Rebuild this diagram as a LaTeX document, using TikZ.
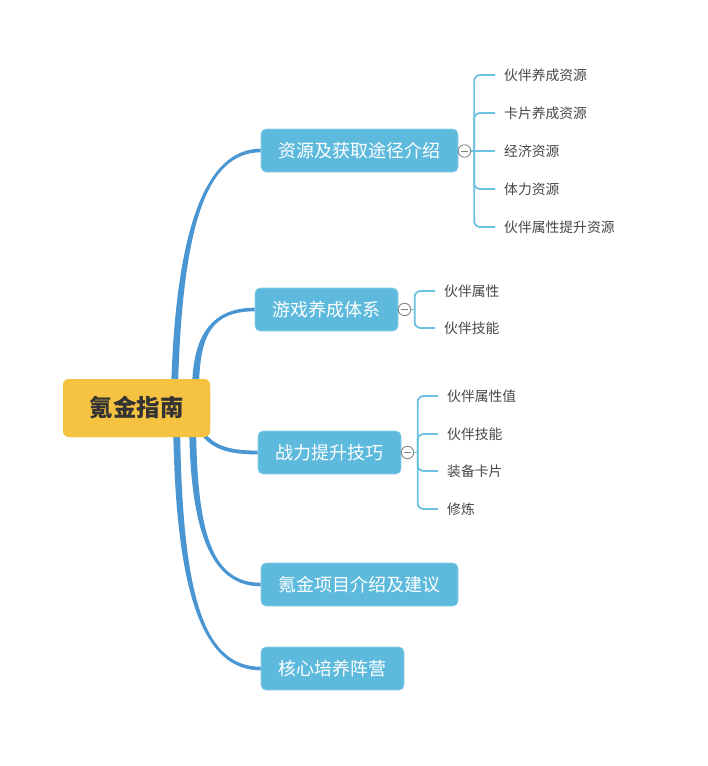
\documentclass[tikz,border=0pt]{standalone}
\usepackage{fontspec}
\newfontfamily\cjk{Noto Sans CJK SC}
\usetikzlibrary{calc}
\definecolor{rootfill}{HTML}{F5C242}
\definecolor{brfill}{HTML}{5EBADD}
\definecolor{conn}{HTML}{4A96D2}
\definecolor{leafline}{HTML}{6CC0E2}
\definecolor{txt}{HTML}{333333}
\newcommand\tapercurve[5]{%
\fill[conn] ($(#1)+(-3.4,0)$) .. controls ($(#2)+(-3.2,0)$) and ($(#3)+(0,{-(#5)})$) .. ($(#4)+(0,{-(#5)})$) -- ($(#4)+(0,#5)$) .. controls ($(#3)+(0,#5)$) and ($(#2)+(3.2,0)$) .. ($(#1)+(3.4,0)$) -- cycle;}
\begin{document}
\begin{tikzpicture}[x=1pt,y=-1pt,
 rootbox/.style={fill=rootfill, rounded corners=6pt, minimum width=147pt, minimum height=58pt, text=txt, font=\cjk\bfseries\fontsize{23.5}{26}\selectfont, inner sep=0pt},
 brbox/.style={fill=brfill, draw=brfill!70!white, line width=0.6pt, rounded corners=5pt, minimum height=43pt, text=white, font=\cjk\fontsize{18}{20}\selectfont, inner sep=0pt},
 leaf/.style={anchor=west, text=txt!90!white, font=\cjk\fontsize{13.8}{15}\selectfont, inner xsep=9pt, inner ysep=0pt},
 knob/.style={circle, draw=gray, fill=white, line width=0.8pt, minimum size=12.5pt, inner sep=0pt,
   path picture={\draw[gray, line width=0.8pt] ([xshift=2.8pt]path picture bounding box.west) -- ([xshift=-2.8pt]path picture bounding box.east);}},
 bracket/.style={draw=leafline, line width=1.8pt, rounded corners=6pt},
 thin/.style={draw=leafline, line width=1.8pt},
]
\useasboundingbox (0,0) rectangle (708,766);
\fill[white] (0,0) rectangle (708,766);

% main nodes
\node[rootbox] (root) at (136.5,408) {氪金指南};
\node[brbox, minimum width=197pt] (b1) at (359.5,150.5) {资源及获取途径介绍};
\node[brbox, minimum width=143pt] (b2) at (326.5,309.5) {游戏养成体系};
\node[brbox, minimum width=143pt] (b3) at (329.5,452.5) {战力提升技巧};
\node[brbox, minimum width=197pt] (b4) at (359.5,584.5) {氪金项目介绍及建议};
\node[brbox, minimum width=143pt] (b5) at (332.5,668.5) {核心培养阵营};

% root connectors
\coordinate (s1) at ([xshift=112pt]root.north west);
\coordinate (s2) at ([xshift=133pt]root.north west);
\coordinate (s3) at ($(root.south east)+(-6,-2)$);
\coordinate (s4) at ([xshift=130pt]root.south west);
\coordinate (s5) at ([xshift=114pt]root.south west);
\coordinate (c11) at (180,230); \coordinate (c12) at (205,150.5);
\coordinate (c21) at (198,335); \coordinate (c22) at (212,309.5);
\coordinate (c31) at (215,448); \coordinate (c32) at (230,452.5);
\coordinate (c41) at (195,540); \coordinate (c42) at (215,584.5);
\coordinate (c51) at (180,600); \coordinate (c52) at (205,668.5);
\tapercurve{s1}{c11}{c12}{b1.west}{1.8}
\tapercurve{s2}{c21}{c22}{b2.west}{1.8}
\draw[conn, line width=3.8pt] (s3) .. controls (c31) and (c32) .. (b3.west);
\tapercurve{s4}{c41}{c42}{b4.west}{-1.8}
\tapercurve{s5}{c51}{c52}{b5.west}{-1.8}
\node[rootbox] at (root) {氪金指南};

% branch 1 leaves
\node[leaf] (l11) at (495,75) {伙伴养成资源};
\node[leaf] (l12) at (495,113) {卡片养成资源};
\node[leaf] (l13) at (495,151) {经济资源};
\node[leaf] (l14) at (495,189) {体力资源};
\node[leaf] (l15) at (495,227) {伙伴属性提升资源};
\node[knob] (k1) at (464.5,151) {};
\coordinate (j1) at ([xshift=3pt]k1.east);
\draw[thin] (k1.east) -- (l13.west);
\foreach \l in {l11,l12,l14,l15} \draw[bracket] (j1) |- (\l.west);

% branch 2 leaves
\node[leaf] (l21) at (435,291) {伙伴属性};
\node[leaf] (l22) at (435,328) {伙伴技能};
\node[knob] (k2) at (404.5,309.5) {};
\coordinate (j2) at ([xshift=3.5pt]k2.east);
\draw[thin] (k2.east) -- (j2);
\foreach \l in {l21,l22} \draw[bracket] (j2) |- (\l.west);

% branch 3 leaves
\node[leaf] (l31) at (438,396) {伙伴属性值};
\node[leaf] (l32) at (438,434) {伙伴技能};
\node[leaf] (l33) at (438,471) {装备卡片};
\node[leaf] (l34) at (438,509) {修炼};
\node[knob] (k3) at (407.5,452.5) {};
\coordinate (j3) at ([xshift=3.5pt]k3.east);
\draw[thin] (k3.east) -- (j3);
\foreach \l in {l31,l32,l33,l34} \draw[bracket] (j3) |- (\l.west);
\end{tikzpicture}
\end{document}
